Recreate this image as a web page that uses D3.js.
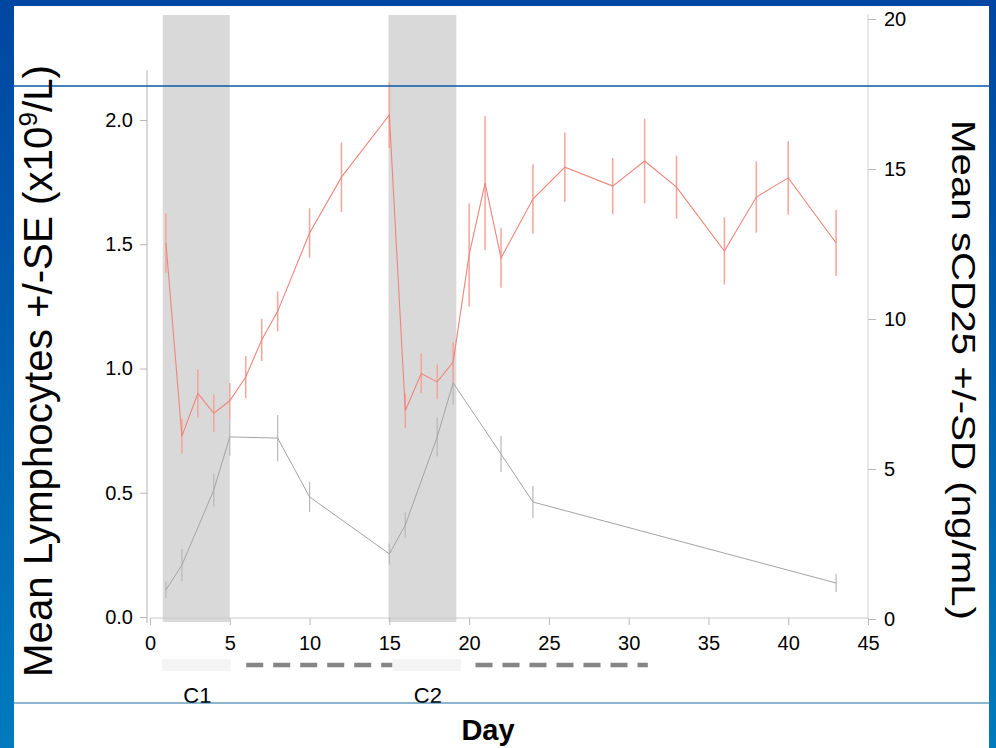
<!DOCTYPE html>
<html>
<head>
<meta charset="utf-8">
<script src="https://cdn.jsdelivr.net/npm/d3@7"></script>
<style>
  html, body { margin: 0; padding: 0; background: #fff; }
  svg { display: block; font-family: "Liberation Sans", Arial, sans-serif; }
</style>
</head>
<body>
<svg id="chart" width="996" height="748"></svg>
<script>
// lymphocytes (left axis), mean +/- SE
var lymDays = [1, 2, 3, 4, 5, 6, 7, 8, 10, 12, 15, 16, 17, 18, 19, 20, 21, 22, 24, 26, 29, 31, 33, 36, 38, 40, 43];
var lymMean = [1.505, 0.728, 0.90, 0.82, 0.87, 0.966, 1.115, 1.23, 1.545, 1.77, 2.02, 0.83, 0.98, 0.946, 1.026, 1.457, 1.746, 1.445, 1.682, 1.81, 1.734, 1.835, 1.73, 1.473, 1.69, 1.767, 1.505];
var lymErr  = [0.12, 0.07, 0.097, 0.075, 0.072, 0.085, 0.085, 0.08, 0.10, 0.14, 0.133, 0.07, 0.08, 0.07, 0.08, 0.207, 0.27, 0.12, 0.14, 0.14, 0.113, 0.17, 0.127, 0.135, 0.143, 0.147, 0.133];

// sCD25 (right axis), mean +/- SD
var scdDays = [1, 2, 4, 5, 8, 10, 15, 16, 18, 19, 22, 24, 43];
var scdMean = [0.97, 1.8, 4.3, 6.07, 6.03, 4.07, 2.17, 3.13, 6.07, 7.87, 5.5, 3.9, 1.2];
var scdErr  = [0.27, 0.53, 0.55, 0.63, 0.77, 0.5, 0.35, 0.42, 0.65, 0.72, 0.6, 0.53, 0.3];

// treatment cycles (day ranges)
var cycleNames = ["C1", "C2"];
var cycleBands = [[0.8, 5.0], [14.95, 19.2]];
var cycleBars  = [[0.75, 5.06], [15.2, 19.5]];
var followDashes = [[6.03, 15.2], [20.4, 31.2]];

var xTicks = [0, 5, 10, 15, 20, 25, 30, 35, 40, 45];
var leftTicks = [0, 0.5, 1.0, 1.5, 2.0];
var rightTicks = [0, 5, 10, 15, 20];

var svg = d3.select("#chart");

// frame
var defs = svg.append("defs");
var grad = defs.append("linearGradient").attr("id", "side").attr("x1", 0).attr("y1", 0).attr("x2", 0).attr("y2", 1);
grad.append("stop").attr("offset", "0%").attr("stop-color", "#0046a2");
grad.append("stop").attr("offset", "100%").attr("stop-color", "#007bbd");

svg.append("rect").attr("x", 0).attr("y", 0).attr("width", 996).attr("height", 748).attr("fill", "#fff");
svg.append("rect").attr("x", 0).attr("y", 0).attr("width", 14).attr("height", 748).attr("fill", "url(#side)");
svg.append("rect").attr("x", 989).attr("y", 0).attr("width", 7).attr("height", 748).attr("fill", "url(#side)");
svg.append("rect").attr("x", 0).attr("y", 0).attr("width", 996).attr("height", 6).attr("fill", "#0046a2");

var x = d3.scaleLinear().domain([0, 45]).range([150, 868]);
var yL = d3.scaleLinear().domain([0, 2]).range([617, 120]);
var yR = d3.scaleLinear().domain([0, 20]).range([619, 19]);

// grey cycle bands
svg.append("g").selectAll("rect").data(cycleBands).join("rect")
    .attr("x", d => x(d[0]))
    .attr("width", d => x(d[1]) - x(d[0]))
    .attr("y", 15)
    .attr("height", 607)
    .attr("fill", "#d9d9d9");

// axes
var gl = svg.append("g").attr("transform", "translate(147,0)")
    .call(d3.axisLeft(yL).tickValues(leftTicks).tickFormat(d3.format(".1f")).tickSize(7).tickPadding(7));
gl.select(".domain").remove();
gl.append("line").attr("x1", 0).attr("x2", 0).attr("y1", yL(2.2)).attr("y2", 623).attr("stroke", "#b0b0b0");

var gx = svg.append("g").attr("transform", "translate(0,618)")
    .call(d3.axisBottom(x).tickValues(xTicks).tickSize(7).tickPadding(11));
gx.select(".domain").remove();
gx.append("line").attr("x1", x(0)).attr("x2", x(45)).attr("y1", 0).attr("y2", 0).attr("stroke", "#c8c8c8");

var gr = svg.append("g").attr("transform", "translate(868,0)")
    .call(d3.axisRight(yR).tickValues(rightTicks).tickSize(8).tickPadding(8));
gr.select(".domain").remove();
gr.append("line").attr("x1", 0).attr("x2", 0).attr("y1", 14).attr("y2", yR(0)).attr("stroke", "#d0d0d0");

svg.selectAll(".tick line").attr("stroke", "#b8b8b8");
svg.selectAll(".tick text").attr("font-size", 20).attr("fill", "#000").attr("font-family", "Liberation Sans, Arial, sans-serif");

// sCD25 series (grey)
var scd = scdDays.map((d, i) => ({day: d, m: scdMean[i], e: scdErr[i]}));
svg.append("g").selectAll("line").data(scd).join("line")
    .attr("x1", d => x(d.day)).attr("x2", d => x(d.day))
    .attr("y1", d => yR(d.m - d.e)).attr("y2", d => yR(d.m + d.e))
    .attr("stroke", "#b8b8b8").attr("stroke-width", 1.2);
svg.append("path").datum(scd)
    .attr("d", d3.line().x(d => x(d.day)).y(d => yR(d.m)))
    .attr("fill", "none").attr("stroke", "#a4a4a4").attr("stroke-width", 1);

// lymphocyte series (red)
var lym = lymDays.map((d, i) => ({day: d, m: lymMean[i], e: lymErr[i]}));
svg.append("g").selectAll("line").data(lym).join("line")
    .attr("x1", d => x(d.day)).attr("x2", d => x(d.day))
    .attr("y1", d => yL(d.m - d.e)).attr("y2", d => yL(d.m + d.e))
    .attr("stroke", "#f4a49b").attr("stroke-width", 1.5);
svg.append("path").datum(lym)
    .attr("d", d3.line().x(d => x(d.day)).y(d => yL(d.m)))
    .attr("fill", "none").attr("stroke", "#ee857a").attr("stroke-width", 1.1);

// cycle markers under the axis
svg.append("g").selectAll("line").data(followDashes).join("line")
    .attr("x1", d => x(d[0])).attr("x2", d => x(d[1]))
    .attr("y1", 665).attr("y2", 665)
    .attr("stroke", "#858585").attr("stroke-width", 4.5)
    .attr("stroke-dasharray", "17,10");
svg.append("g").selectAll("rect").data(cycleBars).join("rect")
    .attr("x", d => x(d[0]))
    .attr("width", d => x(d[1]) - x(d[0]))
    .attr("y", 659).attr("height", 12)
    .attr("fill", "#f4f4f4");
svg.append("g").selectAll("text").data(cycleNames).join("text")
    .attr("x", (d, i) => x((cycleBars[i][0] + cycleBars[i][1]) / 2) + 1)
    .attr("y", 703)
    .attr("text-anchor", "middle")
    .attr("font-size", 22)
    .text(d => d);

// horizontal rules of the slide
svg.append("line").attr("x1", 14).attr("x2", 989).attr("y1", 86).attr("y2", 86)
    .attr("stroke", "#0a56aa").attr("stroke-width", 1.5);
svg.append("line").attr("x1", 14).attr("x2", 989).attr("y1", 703).attr("y2", 703)
    .attr("stroke", "#1f6c9e").attr("stroke-width", 1.2);

// titles
svg.append("text")
    .attr("x", 488).attr("y", 740)
    .attr("text-anchor", "middle")
    .attr("font-size", 29).attr("font-weight", "bold")
    .text("Day");

var lt = svg.append("text")
    .attr("transform", "translate(52,371) rotate(-90)")
    .attr("text-anchor", "middle")
    .attr("font-size", 40)
    .attr("textLength", 612).attr("lengthAdjust", "spacingAndGlyphs");
lt.append("tspan").text("Mean  Lymphocytes +/-SE (x10");
lt.append("tspan").attr("font-size", 26).attr("dy", -15).text("9");
lt.append("tspan").attr("dy", 15).text("/L)");

svg.append("text")
    .attr("transform", "translate(952,370) rotate(90)")
    .attr("text-anchor", "middle")
    .attr("font-size", 34)
    .attr("textLength", 500).attr("lengthAdjust", "spacingAndGlyphs")
    .text("Mean sCD25 +/-SD (ng/mL)");
</script>
</body>
</html>
